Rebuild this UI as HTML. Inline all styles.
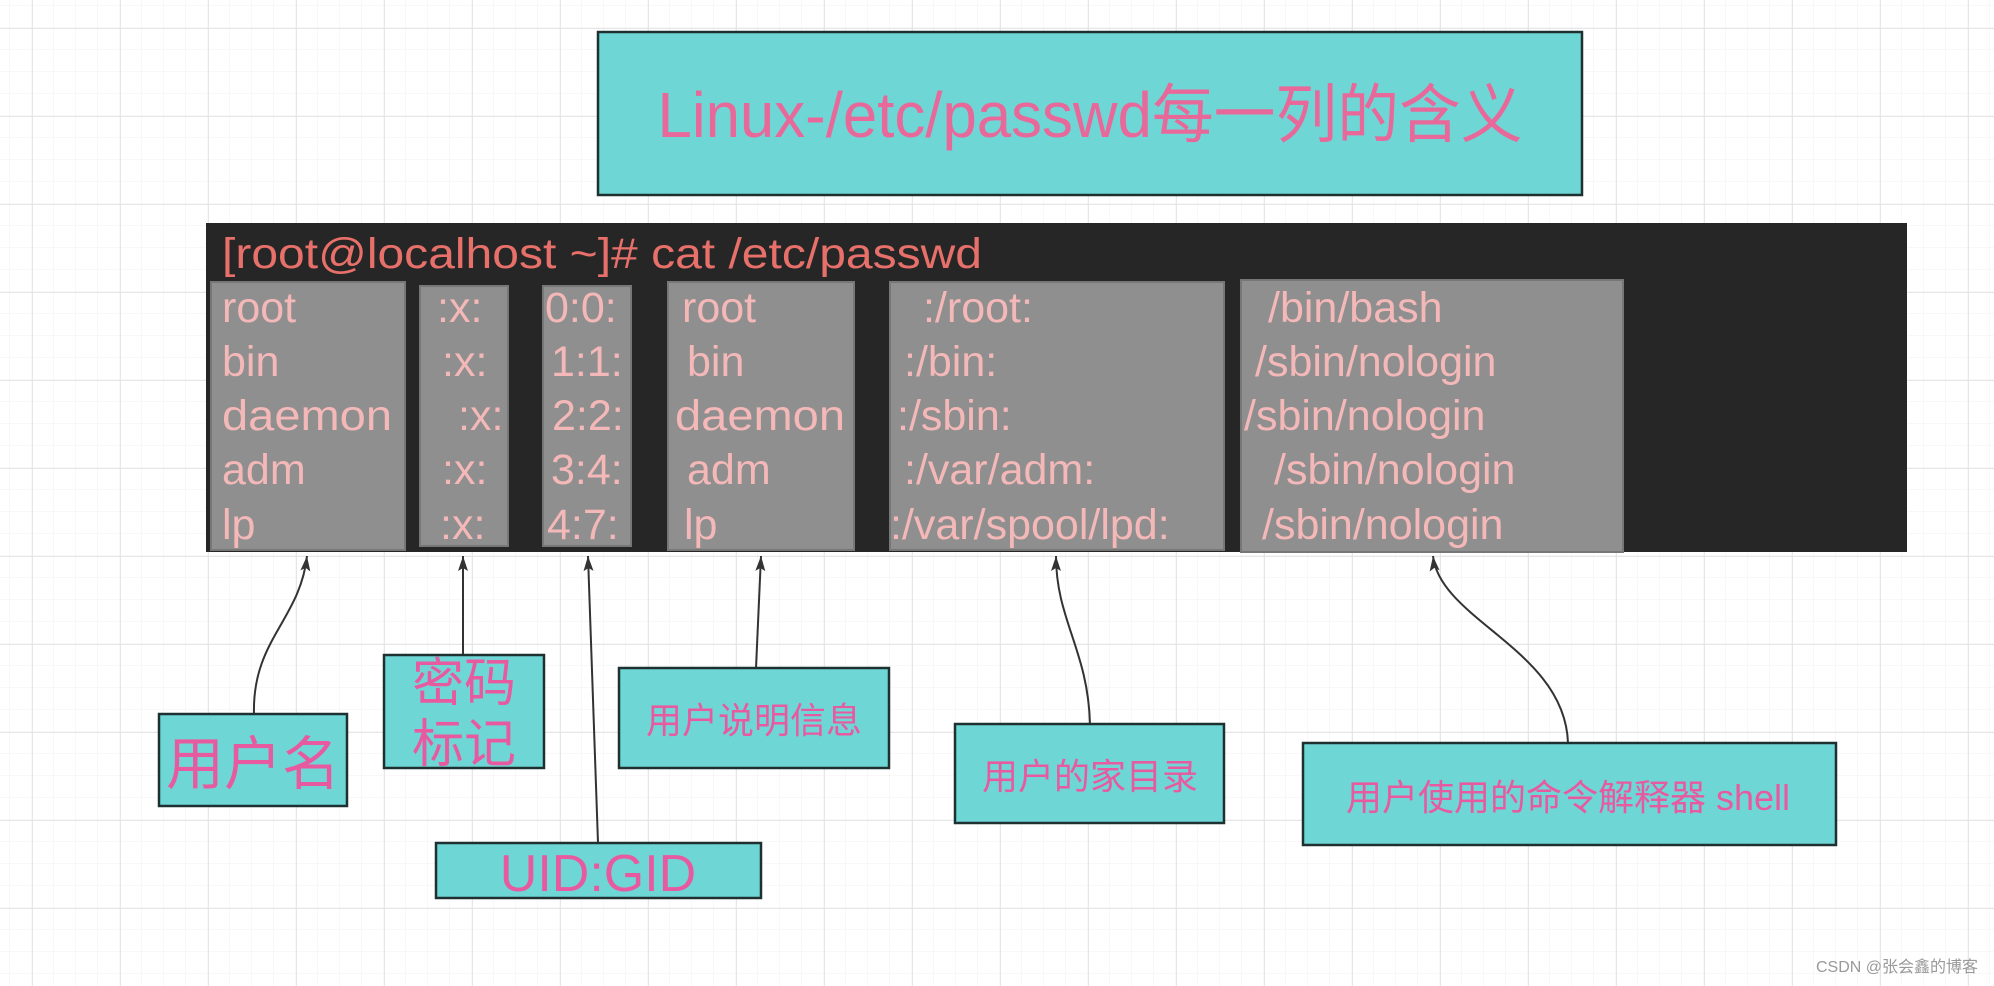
<!DOCTYPE html>
<html><head><meta charset="utf-8"><style>
html,body{margin:0;padding:0;width:1994px;height:986px;overflow:hidden;background:#fff}
svg{display:block}
text{font-family:"Liberation Sans","Noto Sans CJK SC",sans-serif}
</style></head><body>
<svg width="1994" height="986" xmlns="http://www.w3.org/2000/svg">
<defs>
<pattern id="g" x="10" y="6" width="22" height="22" patternUnits="userSpaceOnUse"><path d="M22 0V22M0 22H22" stroke="#f0f0f0" stroke-width="1" fill="none"/></pattern>
<pattern id="G" x="32" y="28" width="88" height="88" patternUnits="userSpaceOnUse"><path d="M0 0V88M0 0H88" stroke="#e6e6e6" stroke-width="2" fill="none"/></pattern>
<marker id="a" markerWidth="16" markerHeight="12" refX="15" refY="6" orient="auto" markerUnits="userSpaceOnUse"><path d="M0 1L15 6L0 11L3 6Z" fill="#333"/></marker>
</defs>
<rect width="1994" height="986" fill="url(#g)"/>
<rect width="1994" height="986" fill="url(#G)"/>

<rect x="598" y="32" width="984" height="163" fill="#6fd6d6" stroke="#1f3030" stroke-width="2.5"/>
<text x="1090" y="137" font-size="64" fill="#e8689a" text-anchor="middle" textLength="865" lengthAdjust="spacingAndGlyphs">Linux-/etc/passwd每一列的含义</text>

<rect x="206" y="223" width="1701" height="329" fill="#262626"/>
<text x="222" y="268" font-size="43" fill="#e8706a" textLength="760" lengthAdjust="spacingAndGlyphs">[root@localhost ~]# cat /etc/passwd</text>

<g fill="#8f8f8f" stroke="#777" stroke-width="2">
<rect x="211" y="282" width="194" height="268"/>
<rect x="420" y="286" width="88" height="260"/>
<rect x="543" y="286" width="88" height="260"/>
<rect x="668" y="282" width="186" height="268"/>
<rect x="890" y="282" width="334" height="268"/>
<rect x="1241" y="280" width="382" height="272"/>
</g>
<g font-size="43" fill="#f4b8b8">
<text x="222" y="322">root</text><text x="222" y="376">bin</text><text x="222" y="430" textLength="170" lengthAdjust="spacingAndGlyphs">daemon</text><text x="222" y="484">adm</text><text x="222" y="539">lp</text>
<text x="437" y="322">:x:</text><text x="442" y="376">:x:</text><text x="458" y="430">:x:</text><text x="442" y="484">:x:</text><text x="440" y="539">:x:</text>
<text x="545" y="322">0:0:</text><text x="551" y="376">1:1:</text><text x="552" y="430">2:2:</text><text x="551" y="484">3:4:</text><text x="547" y="539">4:7:</text>
<text x="682" y="322">root</text><text x="687" y="376">bin</text><text x="675" y="430" textLength="170" lengthAdjust="spacingAndGlyphs">daemon</text><text x="687" y="484">adm</text><text x="684" y="539">lp</text>
<text x="923" y="322">:/root:</text><text x="904" y="376">:/bin:</text><text x="897" y="430">:/sbin:</text><text x="904" y="484">:/var/adm:</text><text x="890" y="539">:/var/spool/lpd:</text>
<text x="1268" y="322">/bin/bash</text><text x="1255" y="376">/sbin/nologin</text><text x="1244" y="430">/sbin/nologin</text><text x="1274" y="484">/sbin/nologin</text><text x="1262" y="539">/sbin/nologin</text>
</g>

<g fill="none" stroke="#333" stroke-width="2" marker-end="url(#a)">
<path d="M254 714C252 640 300 620 307 556"/>
<path d="M463 655L463 556"/>
<path d="M598 843L588 556"/>
<path d="M756 668L761 556"/>
<path d="M1090 724C1088 650 1056 620 1056 556"/>
<path d="M1568 743C1565 650 1440 620 1433 556"/>
</g>

<g fill="#6fd6d6" stroke="#1f3030" stroke-width="2.5">
<rect x="159" y="714" width="188" height="92"/>
<rect x="384" y="655" width="160" height="113"/>
<rect x="619" y="668" width="270" height="100"/>
<rect x="955" y="724" width="269" height="99"/>
<rect x="1303" y="743" width="533" height="102"/>
<rect x="436" y="843" width="325" height="55"/>
</g>
<g fill="#e85aa0" text-anchor="middle">
<text x="253" y="784" font-size="58">用户名</text>
<text x="464" y="701" font-size="52">密码</text>
<text x="464" y="762" font-size="52">标记</text>
<text x="754" y="733" font-size="36">用户说明信息</text>
<text x="1090" y="789" font-size="36">用户的家目录</text>
<text x="1568" y="810" font-size="36">用户使用的命令解释器  shell</text>
<text x="598" y="891" font-size="52">UID:GID</text>
</g>
<text x="1978" y="972" font-size="16" fill="#999" text-anchor="end">CSDN @张会鑫的博客</text>
</svg>
</body></html>
